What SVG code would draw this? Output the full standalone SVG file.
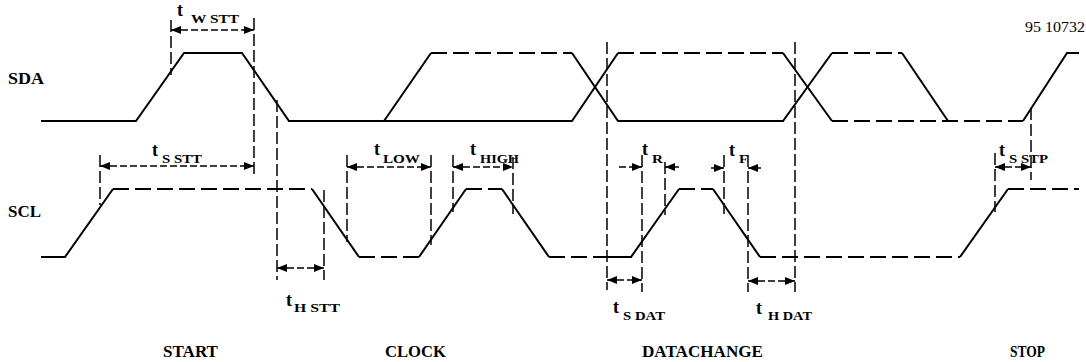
<svg xmlns="http://www.w3.org/2000/svg" width="1086" height="362" viewBox="0 0 1086 362">
<style>
.w{fill:none;stroke:#000;stroke-width:2;stroke-linejoin:miter}
.wd{fill:none;stroke:#000;stroke-width:2;stroke-dasharray:16 6}
.v{fill:none;stroke:#000;stroke-width:1.5;stroke-dasharray:12 4}
.a{fill:none;stroke:#000;stroke-width:1.5;stroke-dasharray:7 3}
.lbl{font-family:"Liberation Serif",serif;font-weight:bold;font-size:17px;fill:#000}
.t{font-family:"Liberation Serif",serif;font-weight:bold;font-size:18px;fill:#000}
.s{font-family:"Liberation Serif",serif;font-weight:bold;font-size:13px;fill:#000}
.id{font-family:"Liberation Serif",serif;font-size:15px;fill:#000}
</style>
<defs>
<marker id="ah" markerUnits="userSpaceOnUse" markerWidth="10" markerHeight="8" refX="10" refY="4" orient="auto-start-reverse">
<path d="M0,0 L10,4 L0,8 z" fill="#000"/>
</marker>
</defs>
<rect width="1086" height="362" fill="#fff"/>
<g id="sda">
<path class="w" d="M41,121 H136 L184,53 H242 L289,121 H572 L618,53"/>
<path class="w" d="M384,121 L431,53"/>
<path class="wd" d="M431,53 H572"/>
<path class="w" d="M572,53 L618,121 H783 L832,53"/>
<path class="wd" d="M618,53 H783"/>
<path class="w" d="M783,53 L832,121"/>
<path class="wd" d="M832,53 H902"/>
<path class="w" d="M902,53 L948,121"/>
<path class="wd" d="M832,121 H1023"/>
<path class="w" d="M1023,121 L1067,53 H1079"/>
</g>
<g id="scl">
<path class="w" d="M41,257 H65 L113,189"/>
<path class="wd" d="M113,189 H312"/>
<path class="w" d="M312,189 L359,257"/>
<path class="wd" d="M359,257 H419"/>
<path class="w" d="M419,257 L466,189"/>
<path class="wd" d="M466,189 H502"/>
<path class="w" d="M502,189 L549,257"/>
<path class="wd" d="M549,257 H607"/>
<path class="w" d="M607,257 H631 L679,189"/>
<path class="wd" d="M679,189 H713"/>
<path class="w" d="M713,189 L760,257"/>
<path class="wd" d="M760,257 H960"/>
<path class="w" d="M960,257 L1008,189"/>
<path class="wd" d="M1008,189 H1079"/>
</g>
<g id="markers">
<path class="v" d="M171,20 V75"/>
<path class="v" d="M254,18 V177"/>
<path class="v" d="M100,155 V205"/>
<path class="v" d="M277,100 V280"/>
<path class="v" d="M324,190 V280"/>
<path class="v" d="M347,155 V242"/>
<path class="v" d="M431,155 V245"/>
<path class="v" d="M453,155 V212"/>
<path class="v" d="M513,157 V214"/>
<path class="v" d="M607,42 V290"/>
<path class="v" d="M642,155 V292"/>
<path class="v" d="M665,162 V215"/>
<path class="v" d="M724,155 V214"/>
<path class="v" d="M748,155 V292"/>
<path class="v" d="M795,42 V292"/>
<path class="v" d="M995,153 V212"/>
<path class="v" d="M1031,108 V180"/>
</g>
<g id="arrows">
<line class="a" x1="171" y1="30" x2="254" y2="30" marker-start="url(#ah)" marker-end="url(#ah)"/>
<line class="a" x1="100" y1="166" x2="254" y2="166" marker-start="url(#ah)" marker-end="url(#ah)"/>
<line class="a" x1="277" y1="268" x2="324" y2="268" marker-start="url(#ah)" marker-end="url(#ah)"/>
<line class="a" x1="347" y1="167" x2="431" y2="167" marker-start="url(#ah)" marker-end="url(#ah)"/>
<line class="a" x1="453" y1="167" x2="513" y2="167" marker-start="url(#ah)" marker-end="url(#ah)"/>
<line class="a" x1="619" y1="167" x2="642" y2="167" marker-end="url(#ah)"/>
<line class="a" x1="679" y1="167" x2="665" y2="167" marker-end="url(#ah)"/>
<line class="a" x1="711" y1="168" x2="724" y2="168" marker-end="url(#ah)"/>
<line class="a" x1="761" y1="168" x2="748" y2="168" marker-end="url(#ah)"/>
<line class="a" x1="607" y1="280" x2="642" y2="280" marker-start="url(#ah)" marker-end="url(#ah)"/>
<line class="a" x1="748" y1="281" x2="795" y2="281" marker-start="url(#ah)" marker-end="url(#ah)"/>
<line class="a" x1="995" y1="167" x2="1031" y2="167" marker-start="url(#ah)" marker-end="url(#ah)"/>
</g>
<g id="labels">
<text class="lbl" x="8" y="84" textLength="36" lengthAdjust="spacingAndGlyphs">SDA</text>
<text class="lbl" x="8" y="217" textLength="33" lengthAdjust="spacingAndGlyphs">SCL</text>
<text class="id" x="1025" y="32" textLength="60" lengthAdjust="spacingAndGlyphs">95 10732</text>
<text class="lbl" x="163" y="357" textLength="55" lengthAdjust="spacingAndGlyphs">START</text>
<text class="lbl" x="385" y="357" textLength="61" lengthAdjust="spacingAndGlyphs">CLOCK</text>
<text class="lbl" x="642" y="357" textLength="121" lengthAdjust="spacingAndGlyphs">DATACHANGE</text>
<text class="lbl" x="1010" y="357" textLength="35" lengthAdjust="spacingAndGlyphs">STOP</text>
<text class="t" x="177" y="16">t</text><text class="s" x="191" y="23" textLength="48" lengthAdjust="spacingAndGlyphs">W STT</text>
<text class="t" x="152" y="156">t</text><text class="s" x="162" y="163" textLength="40" lengthAdjust="spacingAndGlyphs">S STT</text>
<text class="t" x="286" y="306">t</text><text class="s" x="294" y="312" textLength="46" lengthAdjust="spacingAndGlyphs">H STT</text>
<text class="t" x="374" y="155">t</text><text class="s" x="383" y="163" textLength="37" lengthAdjust="spacingAndGlyphs">LOW</text>
<text class="t" x="470" y="155">t</text><text class="s" x="480" y="163" textLength="39" lengthAdjust="spacingAndGlyphs">HIGH</text>
<text class="t" x="642" y="155">t</text><text class="s" x="652" y="163" textLength="11" lengthAdjust="spacingAndGlyphs">R</text>
<text class="t" x="729" y="156">t</text><text class="s" x="739" y="163" textLength="9" lengthAdjust="spacingAndGlyphs">F</text>
<text class="t" x="999" y="156">t</text><text class="s" x="1009" y="163" textLength="39" lengthAdjust="spacingAndGlyphs">S STP</text>
<text class="t" x="613" y="313">t</text><text class="s" x="623" y="320" textLength="42" lengthAdjust="spacingAndGlyphs">S DAT</text>
<text class="t" x="756" y="314">t</text><text class="s" x="768" y="320" textLength="44" lengthAdjust="spacingAndGlyphs">H DAT</text>
</g>
</svg>
